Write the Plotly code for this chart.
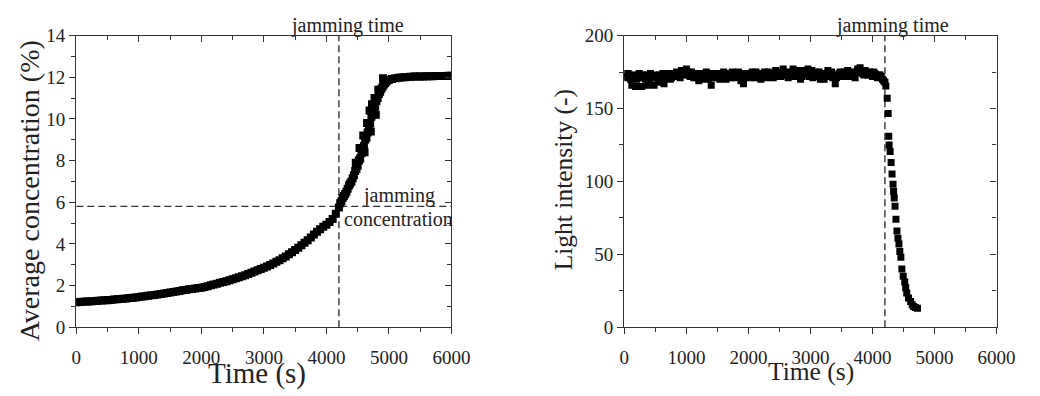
import plotly.graph_objects as go

# ---------------- data: left panel (average concentration) ----------------
conc_time = [
    0, 50, 100, 150, 200, 250, 300, 350, 400, 450, 500, 550, 600, 650, 700, 750, 800, 850, 900, 950,
    1000, 1050, 1100, 1150, 1200, 1250, 1300, 1350, 1400, 1450, 1500, 1550, 1600, 1650, 1700, 1750,
    1800, 1850, 1900, 1950, 2000, 2050, 2100, 2150, 2200, 2250, 2300, 2350, 2400, 2450, 2500, 2550,
    2600, 2650, 2700, 2750, 2800, 2850, 2900, 2950, 3000, 3050, 3100, 3150, 3200, 3250, 3300, 3350,
    3400, 3450, 3500, 3550, 3600, 3650, 3700, 3750, 3800, 3850, 3900, 3950, 4000, 4050, 4100, 4150,
    4200, 4220, 4240, 4260, 4280, 4300, 4320, 4340, 4360, 4380, 4400, 4420, 4440, 4460, 4470, 4480,
    4500, 4520, 4530, 4540, 4560, 4580, 4590, 4600, 4610, 4620, 4640, 4650, 4660, 4680, 4690, 4700,
    4710, 4720, 4730, 4740, 4760, 4770, 4780, 4790, 4800, 4820, 4830, 4840, 4860, 4880, 4900, 4906,
    4920, 4940, 4960, 4980, 5000, 5050, 5100, 5150, 5200, 5250, 5300, 5350, 5400, 5450, 5500, 5550,
    5600, 5650, 5700, 5750, 5800, 5850, 5900, 5950, 6000,
]
conc_value = [
    1.20, 1.21, 1.22, 1.23, 1.24, 1.25, 1.26, 1.27, 1.28, 1.29, 1.30, 1.31, 1.33, 1.34, 1.35, 1.37, 1.38, 1.40, 1.41, 1.43,
    1.45, 1.47, 1.49, 1.51, 1.53, 1.55, 1.57, 1.59, 1.62, 1.64, 1.67, 1.69, 1.72, 1.74, 1.77, 1.79,
    1.82, 1.84, 1.86, 1.88, 1.90, 1.93, 1.97, 2.01, 2.05, 2.09, 2.13, 2.17, 2.21, 2.25, 2.30, 2.35,
    2.40, 2.45, 2.50, 2.55, 2.61, 2.67, 2.73, 2.79, 2.85, 2.92, 2.99, 3.06, 3.14, 3.22, 3.31, 3.40,
    3.50, 3.60, 3.71, 3.82, 3.94, 4.06, 4.18, 4.31, 4.45, 4.58, 4.70, 4.82, 4.92, 5.05, 5.20, 5.45,
    5.75, 5.95, 6.05, 6.20, 6.30, 6.40, 6.50, 6.65, 6.80, 6.90, 7.00, 7.15, 7.30, 7.50, 7.90, 7.60,
    7.75, 8.00, 8.60, 8.10, 8.35, 8.50, 9.20, 8.70, 8.40, 9.00, 9.10, 9.80, 9.35, 9.50, 10.40, 9.80,
    9.40, 10.10, 10.70, 10.20, 10.45, 11.00, 10.60, 10.20, 10.85, 11.00, 11.40, 11.20, 11.30, 11.45, 11.55, 11.95,
    11.65, 11.72, 11.80, 11.85, 11.88, 11.92, 11.95, 11.97, 11.99, 12.00, 12.01, 12.02, 12.03, 12.03, 12.04, 12.04,
    12.05, 12.05, 12.05, 12.06, 12.06, 12.06, 12.06, 12.07, 12.07,
]

# ---------------- data: right panel (light intensity) ----------------
light_time = [
    0, 40, 80, 120, 160, 200, 240, 280, 320, 360, 400, 440, 480, 520, 560, 600, 640, 680, 720, 760,
    800, 840, 880, 920, 960, 1000, 1040, 1080, 1120, 1160, 1200, 1240, 1280, 1320, 1360, 1400, 1440, 1480,
    1520, 1560, 1600, 1640, 1680, 1720, 1760, 1800, 1840, 1880, 1920, 1960, 2000, 2040, 2080, 2120,
    2160, 2200, 2240, 2280, 2320, 2360, 2400, 2440, 2480, 2520, 2560, 2600, 2640, 2680, 2720, 2760,
    2800, 2840, 2880, 2920, 2960, 3000, 3040, 3080, 3120, 3160, 3200, 3240, 3280, 3320, 3360, 3400,
    3440, 3480, 3520, 3560, 3600, 3640, 3680, 3720, 3760, 3800, 3840, 3880, 3920, 3960, 4000, 4040,
    4080, 4120, 4160,
    4200, 4215, 4237, 4252, 4262, 4268, 4284, 4300, 4315, 4331, 4340, 4350, 4363, 4378, 4394, 4410,
    4426, 4440, 4457, 4473, 4495, 4520, 4535, 4552, 4580, 4615, 4640, 4662, 4690, 4725,
]
light_value = [
    174, 171, 173, 166, 172, 170, 174, 165, 171, 173, 169, 172, 166, 171, 173, 170, 167, 172, 174, 171,
    173, 175, 172, 176, 174, 177, 173, 175, 171, 174, 169, 173, 172, 175, 170, 166, 173, 171,
    174, 172, 175, 170, 173, 171, 174, 172, 175, 169, 167, 172, 174, 171, 173, 175,
    172, 170, 174, 172, 175, 173, 171, 176, 174, 172, 177, 173, 171, 175, 177, 172,
    174, 170, 176, 173, 177, 174, 171, 175, 173, 170, 174, 172, 176, 174, 171, 167,
    173, 175, 172, 174, 176, 173, 175, 171, 177, 178, 174, 176, 173, 175, 172, 174,
    171, 173, 170,
    168, 165.5, 157, 146.6, 131, 125, 120.5, 113, 105, 98, 93, 88.6, 83, 74, 66, 61,
    57, 52, 48, 40, 35, 31, 27, 23.5, 20, 17.6, 15.5, 14.3, 13.5, 13,
]
# interleaved readings of the plateau (between the ones above)
light_time_b = [
    20, 60, 100, 140, 180, 220, 260, 300, 340, 380,
    420, 460, 500, 540, 580, 620, 660, 700, 740, 780,
    820, 860, 900, 940, 980, 1020, 1060, 1100, 1140, 1180,
    1220, 1260, 1300, 1340, 1380, 1420, 1460, 1500, 1540, 1580,
    1620, 1660, 1700, 1740, 1780, 1820, 1860, 1900, 1940, 1980,
    2020, 2060, 2100, 2140, 2180, 2220, 2260, 2300, 2340, 2380,
    2420, 2460, 2500, 2540, 2580, 2620, 2660, 2700, 2740, 2780,
    2820, 2860, 2900, 2940, 2980, 3020, 3060, 3100, 3140, 3180,
    3220, 3260, 3300, 3340, 3380, 3420, 3460, 3500, 3540, 3580,
    3620, 3660, 3700, 3740, 3780, 3820, 3860, 3900, 3940, 3980,
    4020, 4060, 4100, 4140, 4180,
]
light_value_b = [
    172, 174, 170, 173, 165, 173, 171, 173, 170, 166,
    174, 171, 173, 168, 172, 174, 171, 173, 170, 174,
    172, 174, 171, 175, 173, 175, 172, 174, 173, 171,
    174, 170, 173, 172, 174, 171, 174, 172, 170, 173,
    172, 174, 172, 175, 171, 173, 172, 174, 171, 173,
    172, 175, 171, 173, 174, 172, 175, 171, 174, 172,
    174, 172, 175, 173, 175, 174, 172, 174, 175, 173,
    176, 172, 174, 175, 172, 176, 173, 172, 175, 172,
    170, 174, 172, 175, 173, 171, 174, 173, 175, 172,
    174, 172, 174, 175, 176, 175, 173, 175, 174, 173,
    175, 172, 173, 172, 169,
]

jam_time = 4200
jam_conc = 5.8

FONT = "Liberation Serif, Times New Roman, serif"
AX = "#333333"
TXT = "#222222"

fig = go.Figure()
fig.add_trace(go.Scatter(x=conc_time, y=conc_value, mode="markers", xaxis="x", yaxis="y",
                         marker=dict(symbol="square", size=8, color="black", line=dict(width=0)),
                         showlegend=False, hoverinfo="skip"))
fig.add_trace(go.Scatter(x=light_time + light_time_b, y=light_value + light_value_b, mode="markers",
                         xaxis="x2", yaxis="y2",
                         marker=dict(symbol="square", size=7, color="black", line=dict(width=0)),
                         showlegend=False, hoverinfo="skip"))
# dummy traces so the mirror (inside-tick) axes are drawn
fig.add_trace(go.Scatter(x=[None], y=[None], xaxis="x3", yaxis="y3", showlegend=False, hoverinfo="skip"))
fig.add_trace(go.Scatter(x=[None], y=[None], xaxis="x4", yaxis="y4", showlegend=False, hoverinfo="skip"))

dom1 = [73 / 1040, 457 / 1040]
dom2 = [634 / 1040, 1015 / 1040]
ydom = [1 - 335 / 396, 1 - 27 / 396]


def main_axis(rng, dtick, mdtick, **kw):
    return dict(range=rng, dtick=dtick, tick0=0, showline=True, linecolor=AX, linewidth=1.4,
                ticks="outside", ticklen=6, tickwidth=1.2, tickcolor=AX,
                showgrid=False, zeroline=False,
                tickfont=dict(family=FONT, size=19, color=TXT),
                minor=dict(ticks="outside", ticklen=4, tickwidth=1.2, tickcolor=AX, dtick=mdtick,
                           tick0=0, showgrid=False),
                **kw)


def mirror_axis(rng, dtick, mdtick, **kw):
    return dict(range=rng, dtick=dtick, tick0=0, showline=True, linecolor=AX, linewidth=1.4,
                ticks="inside", ticklen=6, tickwidth=1.2, tickcolor=AX,
                showgrid=False, zeroline=False, showticklabels=False,
                minor=dict(ticks="inside", ticklen=4, tickwidth=1.2, tickcolor=AX, dtick=mdtick,
                           tick0=0, showgrid=False),
                **kw)


fig.update_layout(
    width=1040, height=396, margin=dict(l=0, r=0, t=0, b=0),
    paper_bgcolor="white", plot_bgcolor="white",
    font=dict(family=FONT, size=19, color=TXT),
    xaxis=main_axis([0, 6000], 1000, 500, domain=dom1, anchor="y", ticklabelstandoff=7),
    yaxis=main_axis([0, 14], 2, 1, domain=ydom, anchor="x"),
    xaxis2=main_axis([0, 6000], 1000, 500, domain=dom2, anchor="y2", ticklabelstandoff=7),
    yaxis2=main_axis([0, 200], 50, 25, domain=ydom, anchor="x2"),
    xaxis3=mirror_axis([0, 6000], 1000, 500, overlaying="x", side="top", anchor="y"),
    yaxis3=mirror_axis([0, 14], 2, 1, overlaying="y", side="right", anchor="x"),
    xaxis4=mirror_axis([0, 6000], 1000, 500, overlaying="x2", side="top", anchor="y2"),
    yaxis4=mirror_axis([0, 200], 50, 25, overlaying="y2", side="right", anchor="x2"),
)

dash = dict(color="#333333", width=1.4, dash="7px,4px")
fig.add_shape(type="line", xref="x", yref="y", x0=jam_time, x1=jam_time, y0=0, y1=14, line=dash, layer="below")
fig.add_shape(type="line", xref="x", yref="y", x0=0, x1=6000, y0=jam_conc, y1=jam_conc, line=dash, layer="below")
fig.add_shape(type="line", xref="x2", yref="y2", x0=jam_time, x1=jam_time, y0=0, y1=200, line=dash, layer="below")

tfont = dict(family=FONT, size=20, color=TXT)
fig.add_annotation(text="jamming time", xref="x", yref="paper", x=4330, y=1 - 16 / 396,
                   xanchor="center", yanchor="middle", showarrow=False, font=tfont)
fig.add_annotation(text="jamming time", xref="x2", yref="paper", x=4330, y=1 - 16 / 396,
                   xanchor="center", yanchor="middle", showarrow=False, font=tfont)
fig.add_annotation(text="jamming", xref="paper", yref="paper", x=403 / 1040, y=1 - 196 / 396,
                   xanchor="center", yanchor="middle", showarrow=False, font=tfont)
fig.add_annotation(text="concentration", xref="paper", yref="paper", x=403 / 1040, y=1 - 221 / 396,
                   xanchor="center", yanchor="middle", showarrow=False, font=tfont)

# axis titles
fig.add_annotation(text="Time (s)", xref="paper", yref="paper", x=258 / 1040, y=1 - 384 / 396,
                   xanchor="center", yanchor="middle", showarrow=False,
                   font=dict(family=FONT, size=29, color=TXT))
fig.add_annotation(text="Time (s)", xref="paper", yref="paper", x=825 / 1040, y=1 - 382 / 396,
                   xanchor="center", yanchor="middle", showarrow=False,
                   font=dict(family=FONT, size=25.5, color=TXT))
fig.add_annotation(text="Average concentration (%)", xref="paper", yref="paper", x=25 / 1040,
                   y=1 - 191 / 396, xanchor="center", yanchor="middle", textangle=-90, showarrow=False,
                   font=dict(family=FONT, size=28, color=TXT))
fig.add_annotation(text="Light intensity (-)", xref="paper", yref="paper", x=572 / 1040,
                   y=1 - 179 / 396, xanchor="center", yanchor="middle", textangle=-90, showarrow=False,
                   font=dict(family=FONT, size=25.5, color=TXT))

fig.write_html("out.html")
